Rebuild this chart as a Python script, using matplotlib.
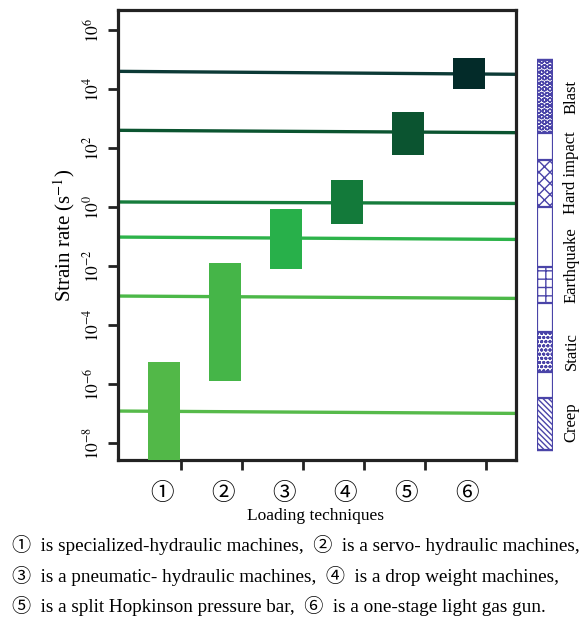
import matplotlib
matplotlib.use("Agg")
import matplotlib.pyplot as plt
import numpy as np
from matplotlib.patches import Rectangle

# ---- data ----
techniques = [1, 2, 3, 4, 5, 6]
tech_labels = ["\u2460", "\u2461", "\u2462", "\u2463", "\u2464", "\u2465"]
bar_low_exp = [-9.0, -5.9, -2.1, -0.58, 1.76, 4.0]
bar_high_exp = [-5.25, -1.9, -0.07, 0.92, 3.22, 5.05]
bar_colors = ["#52b848", "#45b548", "#28b04a", "#137a3a", "#0b5430", "#032b29"]

line_left_exp = [4.6, 2.6, 0.17, -1.02, -3.02, -6.92]
line_right_exp = [4.5, 2.52, 0.12, -1.1, -3.1, -7.0]
line_colors = ["#0c3a36", "#0b5430", "#167c3c", "#2db34a", "#4cb848", "#56ba4a"]

yticks_exp = [6, 4, 2, 0, -2, -4, -6, -8]

regimes = ["Creep", "Static", "Earthquake", "Hard impact", "Blast"]
regime_low_exp = [-8.24, -5.59, -3.25, 0.0, 2.51]
regime_high_exp = [-6.47, -4.24, -2.03, 1.59, 4.98]
regime_hatch = ["\\\\\\\\\\\\", "oooo", "++", "xxx", "OOO"]
regime_label_center_exp = [-7.3, -4.9, -1.97, 1.15, 3.73]
bar_frame_exp = [-8.24, 4.98]

notes = [
    "\u2460  is specialized-hydraulic machines,  \u2461  is a servo- hydraulic machines,",
    "\u2462  is a pneumatic- hydraulic machines,  \u2463  is a drop weight machines,",
    "\u2464  is a split Hopkinson pressure bar,  \u2465  is a one-stage light gas gun.",
]

serif = ["Liberation Serif", "Noto Sans CJK SC", "DejaVu Sans"]
plt.rcParams["font.family"] = serif
plt.rcParams["mathtext.fontset"] = "stix"

fig = plt.figure(figsize=(5.81, 6.17), dpi=100)
ax = fig.add_axes([118 / 581, 1 - 460 / 617, 398 / 581, 450 / 617])
ax.set_yscale("log")
ymin, ymax = 10 ** -8.58, 10 ** 6.68
ax.set_ylim(ymin, ymax)
ax.set_xlim(0.25, 6.77)

bw = 0.52
for x, lo, hi, c in zip(techniques, bar_low_exp, bar_high_exp, bar_colors):
    ax.add_patch(Rectangle((x - bw / 2, 10 ** lo), bw, 10 ** hi - 10 ** lo,
                           facecolor=c, edgecolor="none", zorder=3))

xl, xr = ax.get_xlim()
for l, r, c in zip(line_left_exp, line_right_exp, line_colors):
    ax.plot([xl, xr], [10 ** l, 10 ** r], color=c, lw=2.4, zorder=2, solid_capstyle="butt")

ax.set_yticks([10.0 ** e for e in yticks_exp])
ax.set_yticklabels([f"$10^{{{e}}}$" if e >= 0 else f"$10^{{\u2212{-e}}}$" for e in yticks_exp],
                   rotation=90, va="center", fontsize=12.5)
ax.yaxis.set_minor_locator(matplotlib.ticker.NullLocator())
ax.set_xticks([x + 0.28 for x in techniques])
ax.set_xticklabels([])
for x, lab in zip(techniques, tech_labels):
    ax.text(x - 0.03, -0.075, lab, transform=ax.get_xaxis_transform(),
            ha="center", va="center", fontsize=17, family=serif)
ax.tick_params(axis="both", which="major", direction="out", length=7, width=2.0, color="#222222")
ax.tick_params(axis="y", pad=4)
for s in ax.spines.values():
    s.set_linewidth(2.3)
    s.set_color("#222222")
ax.set_ylabel("Strain rate (s$^{-1}$)", fontsize=15, labelpad=4)
ax.text(0.495, -0.125, "Loading techniques", transform=ax.transAxes,
        ha="center", va="center", fontsize=12.5)

# right-side regime bar
ax2 = fig.add_axes([537 / 581, 1 - 460 / 617, 16 / 581, 450 / 617], sharey=None)
ax2.set_yscale("log")
ax2.set_ylim(ymin, ymax)
ax2.set_xlim(0, 1)
ax2.axis("off")
edge = "#4a44a8"
plt.rcParams["hatch.color"] = edge
plt.rcParams["hatch.linewidth"] = 1.0
ax2.add_patch(Rectangle((0, 10 ** bar_frame_exp[0]), 1, 10 ** bar_frame_exp[1] - 10 ** bar_frame_exp[0],
                        facecolor="white", edgecolor=edge, lw=1.6, zorder=1))
for lo, hi, h in zip(regime_low_exp, regime_high_exp, regime_hatch):
    ax2.add_patch(Rectangle((0, 10 ** lo), 1, 10 ** hi - 10 ** lo, facecolor="white",
                            edgecolor=edge, hatch=h, lw=1.6, zorder=2))
for name, ce in zip(regimes, regime_label_center_exp):
    ax2.text(2.15, 10 ** ce, name, rotation=90, ha="center", va="center", fontsize=12,
             transform=ax2.transData, clip_on=False)

for i, t in enumerate(notes):
    fig.text(12 / 581, 1 - (545 + 30.5 * i) / 617, t, ha="left", va="center", fontsize=13.8,
             family=serif)

fig.savefig("out.png", dpi=100)
